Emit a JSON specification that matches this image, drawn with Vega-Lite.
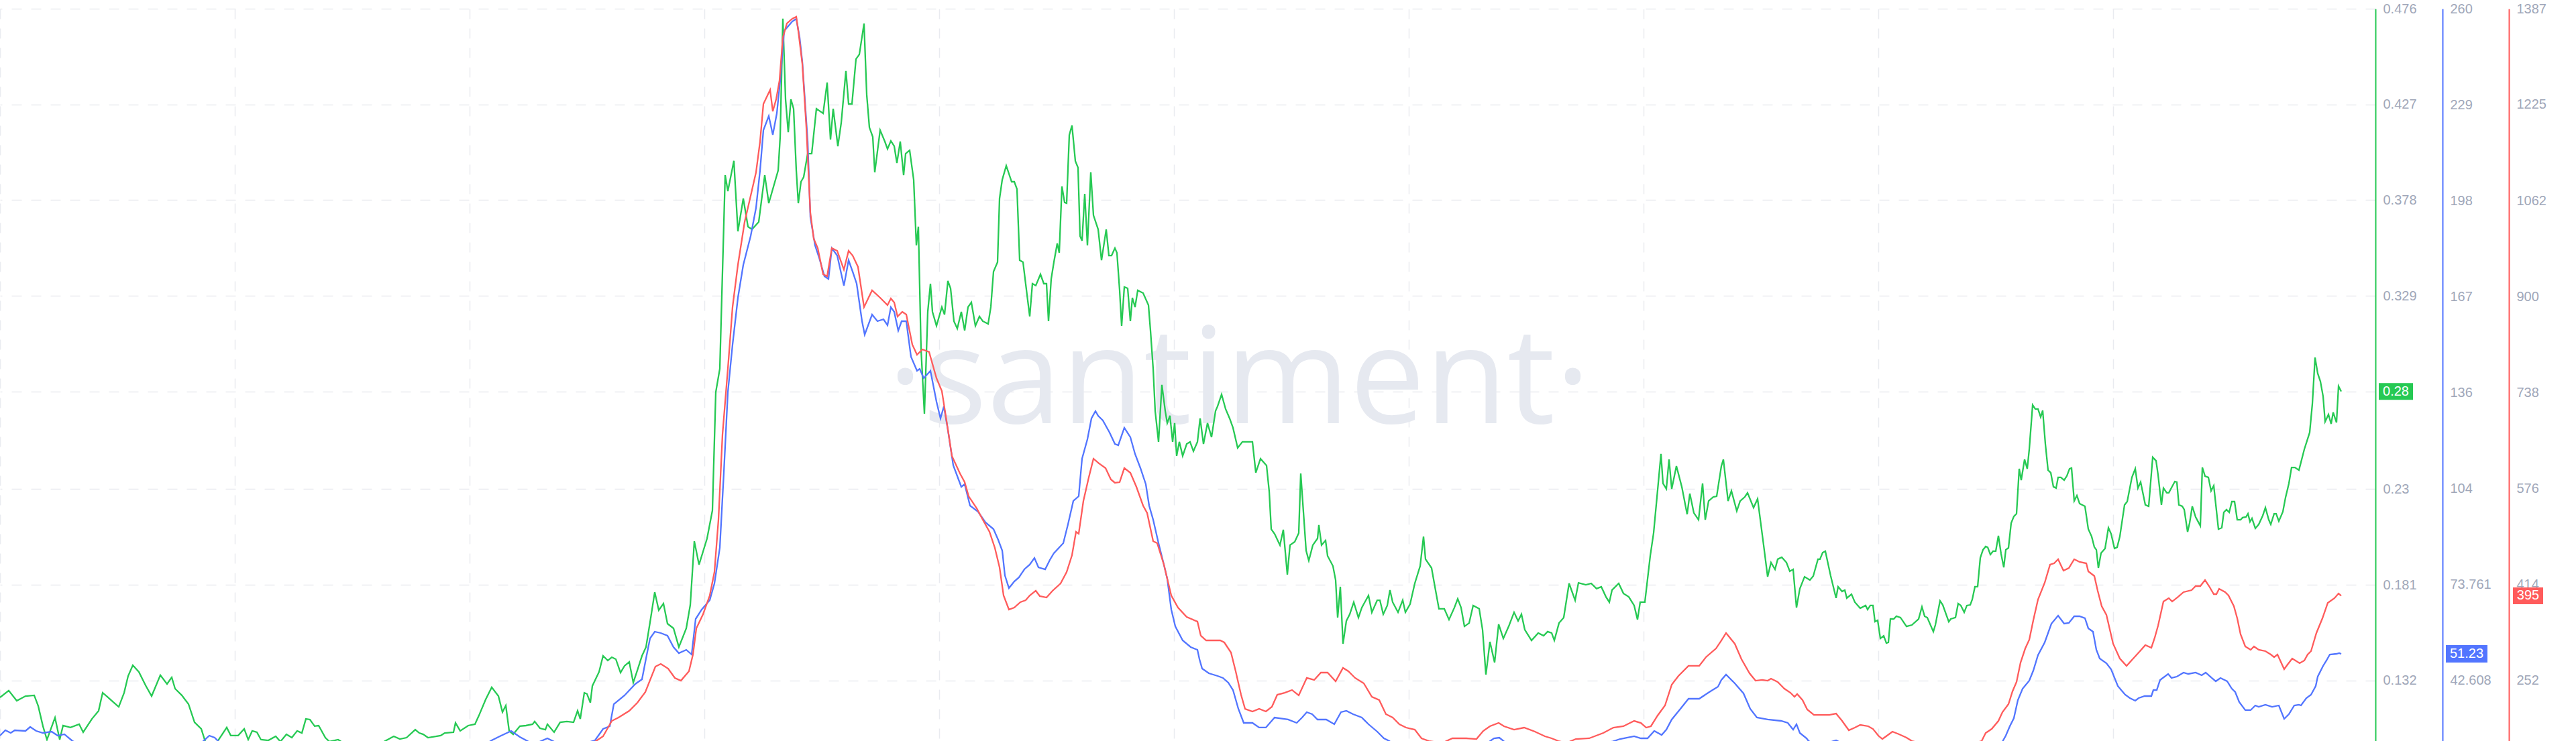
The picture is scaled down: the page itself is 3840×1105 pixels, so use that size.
{
"$schema":"https://vega.github.io/schema/vega-lite/v6.json",
"width":3541,"height":1092,
"autosize":{"type":"none"},
"padding":{"left":0,"top":13,"right":299,"bottom":0},
"background":"#ffffff",
"config":{"view":{"stroke":null},"axis":{"labelFont":"Liberation Sans","labelFontSize":20,"labelColor":"#a0a7b9","ticks":false,"tickSize":0,"labelPadding":11,"title":null,"labelOverlap":false,"labelFlush":false,"domainWidth":2,"gridColor":"#e9ebf0","gridDash":[15,14],"gridWidth":1.5}},
"datasets":{
"green":[{"d":0,"v":0.1233},{"d":2.6,"v":0.1268},{"d":5,"v":0.1216},{"d":7.6,"v":0.124},{"d":10.2,"v":0.1244},{"d":11.4,"v":0.1189},{"d":12.8,"v":0.1086},{"d":14,"v":0.1017},{"d":16.4,"v":0.113},{"d":17.8,"v":0.1017},{"d":18.8,"v":0.1089},{"d":21,"v":0.1079},{"d":23.6,"v":0.1096},{"d":24.8,"v":0.1055},{"d":27.4,"v":0.1123},{"d":29.4,"v":0.1165},{"d":30.6,"v":0.1257},{"d":31.8,"v":0.124},{"d":33.8,"v":0.1209},{"d":35.4,"v":0.1185},{"d":37,"v":0.1257},{"d":38.2,"v":0.1343},{"d":39.6,"v":0.1398},{"d":41.4,"v":0.1364},{"d":43.4,"v":0.1295},{"d":45.2,"v":0.124},{"d":47.8,"v":0.1347},{"d":49.8,"v":0.1302},{"d":51.2,"v":0.1336},{"d":52.2,"v":0.1278},{"d":54.2,"v":0.1244},{"d":56.2,"v":0.1199},{"d":58,"v":0.1106},{"d":60,"v":0.1072},{"d":61.2,"v":0.1007},{"d":64,"v":0.0986},{"d":67.6,"v":0.1079},{"d":68.8,"v":0.1038},{"d":71,"v":0.1038},{"d":72.8,"v":0.1072},{"d":74,"v":0.1017},{"d":75.2,"v":0.1062},{"d":76.6,"v":0.1055},{"d":77.8,"v":0.1017},{"d":80,"v":0.1013},{"d":82.2,"v":0.1034},{"d":83.6,"v":0.1007},{"d":85.4,"v":0.1044},{"d":87,"v":0.1027},{"d":88.6,"v":0.1062},{"d":90,"v":0.1051},{"d":91.2,"v":0.1123},{"d":92.4,"v":0.112},{"d":93.8,"v":0.1086},{"d":95,"v":0.1089},{"d":97,"v":0.1027},{"d":98.2,"v":0.1007},{"d":100.8,"v":0.1017},{"d":103,"v":0.0993},{"d":108,"v":0.0986},{"d":113,"v":0.0993},{"d":117.4,"v":0.1034},{"d":119.2,"v":0.102},{"d":121.2,"v":0.1027},{"d":123.8,"v":0.1068},{"d":125,"v":0.1051},{"d":126.2,"v":0.1044},{"d":127.6,"v":0.1027},{"d":131.4,"v":0.1038},{"d":132.6,"v":0.1051},{"d":135.2,"v":0.1055},{"d":135.8,"v":0.1103},{"d":137.2,"v":0.1062},{"d":139.6,"v":0.1089},{"d":141.6,"v":0.1096},{"d":142.8,"v":0.1141},{"d":144.8,"v":0.1223},{"d":146.6,"v":0.1285},{"d":148.6,"v":0.124},{"d":149.8,"v":0.1158},{"d":150.8,"v":0.1192},{"d":151.8,"v":0.1062},{"d":153,"v":0.1044},{"d":155,"v":0.1086},{"d":156.8,"v":0.1089},{"d":158.8,"v":0.1096},{"d":159.4,"v":0.111},{"d":161,"v":0.1075},{"d":162.6,"v":0.1068},{"d":163.2,"v":0.1096},{"d":165.2,"v":0.1055},{"d":167,"v":0.1106},{"d":169,"v":0.111},{"d":171,"v":0.1106},{"d":172.2,"v":0.1165},{"d":173,"v":0.1123},{"d":174.2,"v":0.1257},{"d":175,"v":0.1251},{"d":176,"v":0.1206},{"d":176.6,"v":0.1292},{"d":178.6,"v":0.1364},{"d":179.8,"v":0.1446},{"d":181.2,"v":0.1422},{"d":182.4,"v":0.1439},{"d":183.6,"v":0.1429},{"d":185,"v":0.136},{"d":186.2,"v":0.1395},{"d":187.6,"v":0.1415},{"d":188.8,"v":0.1309},{"d":190,"v":0.1371},{"d":191.4,"v":0.1446},{"d":192.6,"v":0.1491},{"d":193.8,"v":0.1618},{"d":195.2,"v":0.1772},{"d":196.4,"v":0.168},{"d":197.8,"v":0.1714},{"d":199,"v":0.1611},
{"d":200.8,"v":0.1587},{"d":202.4,"v":0.1491},{"d":204.6,"v":0.1587},{"d":205.8,"v":0.1707},{"d":207,"v":0.2033},{"d":208.4,"v":0.1913},{"d":210.8,"v":0.2047},{"d":212.4,"v":0.2191},{"d":213.4,"v":0.2796},{"d":214.6,"v":0.2916},{"d":216.2,"v":0.3908},{"d":217,"v":0.3826},{"d":218.8,"v":0.3981},{"d":220,"v":0.362},{"d":221.6,"v":0.3788},{"d":223,"v":0.3644},{"d":224.2,"v":0.363},{"d":226.2,"v":0.3668},{"d":228,"v":0.3908},{"d":229.2,"v":0.3764},{"d":232,"v":0.3932},{"d":232.6,"v":0.4104},{"d":233.4,"v":0.4709},{"d":234.2,"v":0.4296},{"d":235,"v":0.4128},{"d":235.8,"v":0.4296},{"d":236.6,"v":0.4248},{"d":237.4,"v":0.3932},{"d":238,"v":0.3764},{"d":238.8,"v":0.3874},{"d":239.6,"v":0.3898},{"d":240.8,"v":0.4018},{"d":242,"v":0.4018},{"d":243.4,"v":0.4248},{"d":245.4,"v":0.4224},{"d":246.6,"v":0.4382},{"d":247.6,"v":0.409},{"d":248.4,"v":0.4248},{"d":249.8,"v":0.4056},{"d":250.8,"v":0.4176},{"d":252.2,"v":0.4441},{"d":253,"v":0.4272},{"d":254,"v":0.4272},{"d":255.2,"v":0.4502},{"d":256.2,"v":0.4526},{"d":257.6,"v":0.4684},{"d":258.4,"v":0.432},{"d":259.2,"v":0.4152},{"d":260.2,"v":0.4104},{"d":260.8,"v":0.3922},{"d":262.4,"v":0.4138},{"d":263.8,"v":0.408},{"d":264.6,"v":0.4042},{"d":265.6,"v":0.4083},{"d":266.6,"v":0.4056},{"d":267.4,"v":0.397},{"d":268.4,"v":0.408},{"d":269.4,"v":0.3908},{"d":270,"v":0.4018},{"d":271.2,"v":0.4035},{"d":272.4,"v":0.3884},{"d":273.2,"v":0.3548},{"d":273.8,"v":0.3644},{"d":274.6,"v":0.3016},{"d":275.6,"v":0.2686},{"d":276.6,"v":0.3208},{"d":277.4,"v":0.3352},{"d":278,"v":0.3208},{"d":279.2,"v":0.3136},{"d":280.8,"v":0.3232},{"d":281.6,"v":0.3194},{"d":282.6,"v":0.3366},{"d":283.4,"v":0.3328},{"d":284.4,"v":0.316},{"d":285.4,"v":0.3122},{"d":286.6,"v":0.3208},{"d":287.6,"v":0.3112},{"d":288.6,"v":0.3232},{"d":289.6,"v":0.3256},{"d":290.8,"v":0.3136},{"d":292,"v":0.3184},{"d":293,"v":0.316},{"d":294.6,"v":0.3146},{"d":295.4,"v":0.3232},{"d":296.2,"v":0.3414},{"d":297.4,"v":0.3462},{"d":298,"v":0.3788},{"d":298.8,"v":0.3884},{"d":300,"v":0.3956},
{"d":301.6,"v":0.3874},{"d":302.4,"v":0.3874},{"d":303.2,"v":0.3836},{"d":304,"v":0.3472},{"d":305,"v":0.3462},{"d":306.2,"v":0.3294},{"d":307,"v":0.3184},{"d":307.8,"v":0.3352},{"d":308.8,"v":0.3342},{"d":310.2,"v":0.34},{"d":311.2,"v":0.3352},{"d":312,"v":0.3352},{"d":312.6,"v":0.316},{"d":313.4,"v":0.3376},{"d":314.2,"v":0.3462},{"d":315.2,"v":0.3558},{"d":315.8,"v":0.351},{"d":316.6,"v":0.385},{"d":317.4,"v":0.3768},{"d":318,"v":0.3764},{"d":318.8,"v":0.4114},{"d":319.6,"v":0.4162},{"d":320.6,"v":0.398},{"d":321.4,"v":0.3946},{"d":322,"v":0.3596},{"d":322.6,"v":0.3572},{"d":323.4,"v":0.3812},{"d":324.2,"v":0.3548},{"d":325.2,"v":0.3922},{"d":326,"v":0.3702},{"d":327.4,"v":0.363},{"d":328.4,"v":0.3472},{"d":329.8,"v":0.363},{"d":330.6,"v":0.3496},{"d":331.4,"v":0.3496},{"d":332.4,"v":0.3534},{"d":333,"v":0.351},{"d":333.8,"v":0.3318},{"d":334.4,"v":0.3136},{"d":335.2,"v":0.3335},{"d":336.2,"v":0.3328},{"d":337,"v":0.316},{"d":337.6,"v":0.328},{"d":338.4,"v":0.3232},{"d":339.2,"v":0.3318},{"d":340.8,"v":0.3304},{"d":342.4,"v":0.3242},{"d":343,"v":0.3112},{"d":343.8,"v":0.2916},{"d":344.4,"v":0.27},{"d":345.4,"v":0.2542},{"d":346.4,"v":0.2834},{"d":347.4,"v":0.27},{"d":348,"v":0.2638},{"d":348.8,"v":0.2676},{"d":349.6,"v":0.2542},{"d":350.2,"v":0.2638},{"d":350.8,"v":0.247},{"d":351.6,"v":0.2542},{"d":352.6,"v":0.247},{"d":353.8,"v":0.2531},{"d":354.8,"v":0.2542},{"d":355.8,"v":0.2494},{"d":357,"v":0.2542},{"d":357.8,"v":0.2662},{"d":358.8,"v":0.2531},{"d":360,"v":0.2638},{"d":361.2,"v":0.2566},{"d":362.4,"v":0.27},{"d":363,"v":0.2724},{"d":364.2,"v":0.2785},{"d":365.4,"v":0.271},{"d":366.6,"v":0.2662},{"d":367.6,"v":0.2614},{"d":369,"v":0.2511},{"d":370.4,"v":0.2542},{"d":373.4,"v":0.2542},{"d":374.4,"v":0.2384},{"d":375.8,"v":0.2456},{"d":377.6,"v":0.2421},{"d":378.4,"v":0.2288},{"d":379,"v":0.2095},{"d":380,"v":0.2071},{"d":381.6,"v":0.2013},{"d":382.6,"v":0.2092},{"d":383.8,"v":0.1862},{"d":384.6,"v":0.2013},{"d":386,"v":0.203},{"d":387.2,"v":0.2075},{"d":387.8,"v":0.238},{"d":389.4,"v":0.1985},{"d":390.2,"v":0.1934},{"d":391.4,"v":0.2013},{"d":392.8,"v":0.2047},{"d":393.2,"v":0.2116},{"d":394,"v":0.2013},{"d":395.2,"v":0.2037},{"d":395.8,"v":0.1958},{"d":397.4,"v":0.1906},{"d":398.2,"v":0.1834},{"d":398.8,"v":0.1642},{"d":399.6,"v":0.18},{"d":400.4,"v":0.1508},{"d":401.4,"v":0.1625},{"d":402.4,"v":0.1659},{"d":403.6,"v":0.1721},{"d":405,"v":0.1642},{"d":406,"v":0.1693},{"d":408,"v":0.1755},{"d":409,"v":0.1669},{"d":410.6,"v":0.1731},{"d":411.4,"v":0.1731},{"d":412.4,"v":0.1659},{"d":413.6,"v":0.1704},{"d":414.4,"v":0.1783},{"d":415.2,"v":0.1721},{"d":416.8,"v":0.1669},{"d":418.2,"v":0.1731},{"d":419,"v":0.1669},{"d":420.4,"v":0.1711},{"d":421.8,"v":0.1817},{"d":423.4,"v":0.1906},{"d":424.4,"v":0.2057},{"d":425,"v":0.1941},{"d":426.8,"v":0.1896},{"d":427.8,"v":0.18},{"d":429,"v":0.1687},{"d":430.6,"v":0.1687},{"d":432,"v":0.1632},{"d":433.6,"v":0.1693},{"d":434.6,"v":0.1738},{"d":435.6,"v":0.1693},{"d":436.6,"v":0.1597},{"d":438,"v":0.1614},{"d":439.2,"v":0.1704},{"d":441,"v":0.1687},{"d":442,"v":0.158},{"d":443,"v":0.135},{"d":444.2,"v":0.1518},{"d":445.6,"v":0.1412},{"d":446.8,"v":0.1608},{"d":448.2,"v":0.1535},{"d":449.8,"v":0.1597},{"d":451.4,"v":0.1669},{"d":452.6,"v":0.1625},{"d":453.6,"v":0.1659},{"d":454.6,"v":0.158},{"d":456.6,"v":0.1525},{"d":458.6,"v":0.1563},{"d":460.2,"v":0.1549},{"d":461.4,"v":0.157},{"d":462.6,"v":0.1563},{"d":463.4,"v":0.1525},{"d":464.8,"v":0.1614},{"d":466.2,"v":0.1642},{"d":467.8,"v":0.1817},{"d":469.6,"v":0.1731},{"d":470.6,"v":0.182},{"d":472.8,"v":0.181},{"d":474.4,"v":0.1817},{"d":476,"v":0.179},{"d":477.4,"v":0.18},{"d":478.8,"v":0.1748},{"d":479.8,"v":0.1721},{"d":480.6,"v":0.1783},{"d":482.6,"v":0.1817},{"d":484,"v":0.1766},{"d":485.6,"v":0.1748},{"d":487.2,"v":0.1704},{"d":488.2,"v":0.1632},{"d":489,"v":0.1721},{"d":490.4,"v":0.1721},{"d":492,"v":0.1958},{"d":493,"v":0.2075},{"d":493.8,"v":0.2222},{"d":495.2,"v":0.248},{"d":495.8,"v":0.2329},{"d":496.8,"v":0.2301},{"d":497.6,"v":0.2452},{"d":498.4,"v":0.2301},{"d":499.8,"v":0.2418},{"d":501.4,"v":0.2312},{"d":503,"v":0.2171},{"d":503.8,"v":0.2277},{"d":505,"v":0.2178},{"d":506.4,"v":0.2143},{"d":507.6,"v":0.2329},{"d":508.4,"v":0.2143},{"d":509.4,"v":0.2239},{"d":510.8,"v":0.226},{"d":511.8,"v":0.2263},{"d":513.2,"v":0.2418},{"d":513.8,"v":0.2452},{"d":515.2,"v":0.2239},{"d":516.2,"v":0.2291},{"d":517.8,"v":0.2188},{"d":518.8,"v":0.2239},{"d":520.2,"v":0.226},{"d":521,"v":0.2281},{"d":522.8,"v":0.2205},{"d":524,"v":0.225},{"d":525.8,"v":0.2013},{"d":527,"v":0.1851},{"d":528,"v":0.1924},{"d":529.2,"v":0.1889},{"d":530,"v":0.1941},{"d":531.2,"v":0.1951},{"d":532.6,"v":0.1924},{"d":533.6,"v":0.1879},{"d":534.6,"v":0.1889},{"d":535.6,"v":0.1693},{"d":536.6,"v":0.179},{"d":538,"v":0.1851},{"d":539.6,"v":0.1834},
{"d":540.6,"v":0.1855},{"d":542,"v":0.1941},{"d":542.6,"v":0.1941},{"d":543.4,"v":0.1975},{"d":544.2,"v":0.1982},{"d":545.8,"v":0.1855},{"d":547.4,"v":0.1742},{"d":548,"v":0.18},{"d":549.2,"v":0.1776},{"d":550,"v":0.1783},{"d":550.6,"v":0.1742},{"d":552,"v":0.1762},{"d":553,"v":0.1721},{"d":554.6,"v":0.169},{"d":556.2,"v":0.1704},{"d":556.8,"v":0.1683},{"d":557.6,"v":0.1704},{"d":558.4,"v":0.1704},{"d":559,"v":0.1621},{"d":559.8,"v":0.1628},{"d":560.6,"v":0.1535},{"d":561.6,"v":0.1549},{"d":562.4,"v":0.1511},{"d":563,"v":0.1515},{"d":563.6,"v":0.1635},{"d":564.6,"v":0.1635},{"d":565.4,"v":0.1649},{"d":566.6,"v":0.1642},{"d":568.4,"v":0.1597},{"d":570,"v":0.1604},{"d":572,"v":0.1635},{"d":573,"v":0.1697},{"d":573.8,"v":0.1649},{"d":574.6,"v":0.1642},{"d":576.4,"v":0.157},{"d":577,"v":0.1604},{"d":578.4,"v":0.1728},{"d":579.2,"v":0.1707},{"d":581,"v":0.1621},{"d":581.6,"v":0.1635},{"d":583,"v":0.1642},{"d":583.8,"v":0.1714},{"d":584.6,"v":0.1704},{"d":585.6,"v":0.1669},{"d":586.4,"v":0.1704},{"d":587.4,"v":0.1707},{"d":588,"v":0.1735},{"d":588.8,"v":0.18},{"d":589.6,"v":0.18},{"d":590.4,"v":0.1948},{"d":591.2,"v":0.1989},{"d":592,"v":0.2006},{"d":592.6,"v":0.2002},{"d":593.4,"v":0.1965},{"d":594.2,"v":0.1982},{"d":595,"v":0.1982},{"d":595.8,"v":0.2061},{"d":596.6,"v":0.1968},{"d":597.4,"v":0.1899},{"d":598,"v":0.1989},{"d":598.8,"v":0.1999},{"d":599.6,"v":0.2126},{"d":600.4,"v":0.216},{"d":601.2,"v":0.2174},{"d":602,"v":0.2404},{"d":602.6,"v":0.2346},{"d":603.6,"v":0.2452},{"d":604.4,"v":0.2404},{"d":605,"v":0.2504},{"d":606,"v":0.2731},{"d":606.8,"v":0.271},{"d":607.6,"v":0.271},{"d":608.4,"v":0.2669},{"d":609,"v":0.2703},{"d":609.8,"v":0.2531},{"d":610.6,"v":0.2397},{"d":611.4,"v":0.2384},{"d":612.2,"v":0.2312},{"d":613,"v":0.2305},{"d":613.6,"v":0.236},{"d":614.4,"v":0.236},{"d":615.4,"v":0.2346},{"d":616.2,"v":0.2367},{"d":617,"v":0.2404},{"d":617.6,"v":0.2408},{"d":618.4,"v":0.2239},{"d":619.2,"v":0.2267},{"d":620,"v":0.2226},{"d":621.6,"v":0.2212},{"d":622.6,"v":0.2095},{"d":623.6,"v":0.2057},{"d":624.4,"v":0.2003},{"d":625,"v":0.1989},{"d":625.6,"v":0.1896},{"d":626.4,"v":0.1972},{"d":627.6,"v":0.1996},{"d":628.6,"v":0.2102},{"d":629.4,"v":0.2071},{"d":630.4,"v":0.1996},{"d":631.2,"v":0.2002},{"d":632,"v":0.2057},{"d":633.4,"v":0.2219},{"d":634.2,"v":0.2236},{"d":635.6,"v":0.236},{"d":636.6,"v":0.2404},{"d":637.4,"v":0.2305},{"d":638.2,"v":0.2336},{"d":639.6,"v":0.2219},{"d":640.6,"v":0.2212},{"d":641.8,"v":0.2463},{"d":642.8,"v":0.2445},{"d":643.4,"v":0.2373},{"d":644.4,"v":0.2219},{"d":645,"v":0.2305},{"d":646,"v":0.2281},{"d":646.6,"v":0.2281},{"d":648.4,"v":0.2339},{"d":649,"v":0.2336},{"d":649.6,"v":0.2219},{"d":650.6,"v":0.2212},{"d":651.2,"v":0.2195},{"d":652.2,"v":0.2081},{"d":652.8,"v":0.2126},{"d":653.6,"v":0.2212},{"d":654.6,"v":0.2157},{"d":656,"v":0.2112},{"d":656.6,"v":0.2411},{"d":657.4,"v":0.2366},{"d":658.4,"v":0.236},{"d":659.2,"v":0.2291},{"d":660,"v":0.2318},{"d":661.4,"v":0.2095},{"d":662.4,"v":0.2102},{"d":663,"v":0.2181},{"d":663.8,"v":0.2195},{"d":664.6,"v":0.2181},{"d":665.4,"v":0.2236},{"d":666.2,"v":0.2236},{"d":667,"v":0.2143},{"d":668,"v":0.2143},{"d":668.6,"v":0.2154},{"d":669.6,"v":0.2157},{"d":670.2,"v":0.2174},{"d":670.8,"v":0.2133},{"d":671.4,"v":0.215},{"d":672.4,"v":0.2099},{"d":673.4,"v":0.2119},{"d":674.6,"v":0.2164},{"d":675.4,"v":0.2205},{"d":676.4,"v":0.2143},{"d":677,"v":0.2119},{"d":678,"v":0.2174},{"d":678.6,"v":0.2174},{"d":679.4,"v":0.2136},{"d":680.6,"v":0.2184},{"d":681.4,"v":0.2257},{"d":682.4,"v":0.2329},{"d":683.2,"v":0.2411},{"d":684.2,"v":0.2411},{"d":685.4,"v":0.2397},{"d":687,"v":0.2504},{"d":688.6,"v":0.259},{"d":689.4,"v":0.2737},{"d":690.2,"v":0.2974},{"d":691,"v":0.2892},{"d":691.8,"v":0.2851},{"d":692.6,"v":0.2775},{"d":693.2,"v":0.2645},{"d":694.2,"v":0.2682},{"d":695,"v":0.2634},{"d":695.6,"v":0.2693},{"d":696.6,"v":0.2641},{"d":697.2,"v":0.2827},{"d":698,"v":0.28}],
"blue":[{"d":0,"v":24.69},{"d":1.6,"v":26.43},{"d":3.2,"v":25.56},{"d":4.4,"v":26.43},{"d":7.6,"v":26.22},{"d":9,"v":27.52},{"d":10.8,"v":26.22},{"d":12.8,"v":25.56},{"d":15.4,"v":26.0},{"d":17.2,"v":24.69},{"d":19.2,"v":25.13},{"d":21.6,"v":22.95},{"d":26,"v":20.77},{"d":40,"v":17.51},{"d":56,"v":19.69},{"d":60,"v":22.3},{"d":62.4,"v":24.69},{"d":64,"v":24.04},{"d":65.6,"v":22.3},{"d":70,"v":18.6},{"d":90,"v":15.33},{"d":120,"v":15.33},{"d":140,"v":18.6},{"d":146.6,"v":23.17},{"d":149,"v":24.48},{"d":152.4,"v":26.22},{"d":155,"v":24.26},{"d":157.6,"v":22.73},{"d":160,"v":22.3},{"d":163.2,"v":23.82},{"d":166,"v":22.3},{"d":172,"v":21.43},{"d":177.4,"v":23.17},{"d":179.8,"v":26.87},{"d":181.8,"v":27.74},{"d":183,"v":34.92},{"d":186.2,"v":37.76},{"d":189.4,"v":41.46},{"d":191.4,"v":42.98},{"d":192.6,"v":49.73},{"d":193.8,"v":56.26},{"d":195.2,"v":58.44},{"d":197,"v":58.0},{"d":199,"v":57.13},{"d":200.8,"v":53.43},{"d":202.4,"v":51.47},{"d":204.6,"v":52.56},{"d":206.2,"v":51.03},{"d":207.4,"v":62.57},{"d":209.2,"v":65.62},{"d":211.6,"v":68.67},{"d":213,"v":74.11},{"d":214.6,"v":85.65},{"d":215.8,"v":110.03},{"d":217,"v":136.16},{"d":218.4,"v":151.61},{"d":220,"v":166.85},{"d":221.6,"v":177.52},{"d":223.8,"v":186.88},{"d":225.4,"v":196.02},{"d":226.6,"v":208.21},{"d":227.6,"v":221.28},{"d":229.2,"v":225.85},{"d":230.4,"v":219.75},{"d":231.6,"v":226.72},{"d":232.6,"v":237.39},{"d":233.8,"v":253.5},{"d":235,"v":255.02},{"d":236.2,"v":256.54},{"d":237.4,"v":257.41},{"d":238.4,"v":251.32},{"d":239.2,"v":243.48},{"d":240.8,"v":217.58},{"d":241.6,"v":192.98},{"d":243,"v":183.83},{"d":244.2,"v":179.91},{"d":245.8,"v":173.82},{"d":247,"v":172.95},{"d":248,"v":182.96},{"d":249.6,"v":180.57},{"d":251.6,"v":170.77},{"d":253,"v":179.04},{"d":254.2,"v":175.34},{"d":255.4,"v":171.42},{"d":257,"v":159.23},{"d":257.8,"v":154.88},{"d":260,"v":161.41},{"d":261.6,"v":159.23},{"d":263.4,"v":159.88},{"d":264.6,"v":157.93},{"d":265.6,"v":163.8},{"d":266.6,"v":162.28},{"d":267.8,"v":156.18},{"d":268.8,"v":159.23},{"d":270.2,"v":159.23},{"d":271.6,"v":147.69},{"d":273.4,"v":143.12},{"d":274.2,"v":143.77},{"d":275.4,"v":140.73},{"d":277.4,"v":143.12},{"d":279.2,"v":133.11},{"d":280.4,"v":127.67},{"d":281.4,"v":131.58},{"d":282.6,"v":123.96},{"d":284.2,"v":112.43},{"d":286.6,"v":105.46},{"d":287.6,"v":106.33},{"d":289.2,"v":99.36},{"d":291.6,"v":97.4},{"d":293.8,"v":93.92},{"d":296.2,"v":91.74},{"d":297.6,"v":88.26},{"d":298.8,"v":84.78},{"d":299.6,"v":76.72},{"d":300.8,"v":72.59},{"d":302.4,"v":74.76},{"d":303.8,"v":76.07},{"d":305.4,"v":78.68},{"d":307,"v":80.21},{"d":308.4,"v":82.38},{"d":309.6,"v":79.34},{"d":311.6,"v":78.68},{"d":313,"v":81.73},{"d":314.2,"v":83.91},{"d":317,"v":87.17},{"d":318.4,"v":93.27},{"d":320,"v":100.89},{"d":321.6,"v":102.41},{"d":322.6,"v":114.6},{"d":324.2,"v":120.92},{"d":325.4,"v":127.67},{"d":326.6,"v":130.06},{"d":327.4,"v":128.54},{"d":328.8,"v":127.01},{"d":330.8,"v":123.09},{"d":332.4,"v":119.39},{"d":333.4,"v":118.96},{"d":335.2,"v":124.62},{"d":337,"v":121.57},{"d":338.4,"v":116.13},{"d":340,"v":111.56},{"d":341.6,"v":106.33},{"d":342.6,"v":99.36},{"d":343.8,"v":94.79},{"d":345.4,"v":87.17},{"d":347,"v":80.21},{"d":348,"v":75.63},{"d":349.2,"v":65.62},{"d":350.4,"v":60.18},{"d":352.6,"v":55.61},{"d":355,"v":53.43},{"d":357,"v":52.56},{"d":357.6,"v":49.51},{"d":358.4,"v":46.46},{"d":360.4,"v":44.94},{"d":363,"v":44.07},{"d":364.6,"v":43.42},{"d":366.2,"v":41.89},{"d":367.6,"v":39.49},{"d":369.2,"v":33.4},{"d":370.8,"v":28.83},{"d":373.4,"v":28.83},{"d":375.4,"v":27.31},{"d":377.4,"v":27.31},{"d":380,"v":30.57},{"d":384,"v":29.92},{"d":386.6,"v":28.83},{"d":388.2,"v":30.57},{"d":389.6,"v":32.31},{"d":391.2,"v":31.66},{"d":392.8,"v":29.92},{"d":395.4,"v":29.92},{"d":397.8,"v":28.39},{"d":399.8,"v":32.31},{"d":401.4,"v":32.75},{"d":403.4,"v":31.66},{"d":406,"v":30.57},{"d":408,"v":28.39},{"d":410.6,"v":26.0},{"d":412.6,"v":23.82},{"d":414.2,"v":22.95},{"d":416,"v":21.43},{"d":430,"v":19.69},{"d":444,"v":22.73},{"d":445.4,"v":23.82},{"d":447,"v":24.04},{"d":449,"v":22.3},{"d":460,"v":20.77},{"d":480.6,"v":22.73},{"d":483,"v":23.6},{"d":487.2,"v":24.48},{"d":489.2,"v":23.82},{"d":491.2,"v":23.82},{"d":493.2,"v":26.22},{"d":495.4,"v":24.91},{"d":496.8,"v":26.65},{"d":498.4,"v":29.92},{"d":501,"v":33.4},{"d":503.4,"v":36.67},{"d":506.6,"v":36.67},{"d":509.6,"v":38.84},{"d":512.2,"v":40.58},{"d":513.2,"v":42.76},{"d":514.6,"v":44.5},{"d":517.2,"v":41.67},{"d":519.8,"v":38.41},{"d":521.8,"v":33.4},{"d":523.8,"v":30.57},{"d":527,"v":29.92},{"d":531,"v":29.48},{"d":533,"v":28.83},{"d":534.6,"v":26.65},{"d":535.6,"v":28.39},{"d":536.6,"v":25.56},{"d":538.6,"v":23.82},{"d":539.2,"v":22.95},{"d":542,"v":21.43},{"d":546,"v":22.73},{"d":547.4,"v":23.17},{"d":549,"v":22.3},{"d":560,"v":18.6},{"d":580,"v":17.51},{"d":592,"v":19.69},{"d":597,"v":22.73},{"d":598,"v":24.69},{"d":599.2,"v":27.74},{"d":600.4,"v":30.35},{"d":601.6,"v":36.23},{"d":603,"v":39.93},{"d":605,"v":42.54},{"d":606.2,"v":45.81},{"d":607.6,"v":50.82},{"d":609.6,"v":54.95},{"d":611.6,"v":61.05},{"d":613.6,"v":63.66},{"d":615.4,"v":61.05},{"d":616.8,"v":61.27},{"d":618.4,"v":63.44},{"d":620,"v":63.44},{"d":621.6,"v":62.79},{"d":622.6,"v":59.53},{"d":624,"v":58.44},{"d":625,"v":52.56},{"d":626,"v":49.73},{"d":628,"v":48.2},{"d":629.4,"v":46.25},{"d":631.4,"v":40.8},{"d":632.4,"v":39.49},{"d":633.6,"v":37.97},{"d":635,"v":36.88},{"d":636.6,"v":36.01},{"d":637.6,"v":36.88},{"d":639.4,"v":37.54},{"d":641.4,"v":37.54},{"d":642,"v":39.49},{"d":643,"v":39.49},{"d":644,"v":42.76},{"d":646.4,"v":44.72},{"d":647.4,"v":43.42},{"d":649,"v":43.85},{"d":651,"v":45.16},{"d":652.4,"v":44.72},{"d":654.6,"v":45.16},{"d":656.4,"v":44.29},{"d":657.6,"v":45.16},{"d":659.4,"v":43.42},{"d":660.6,"v":42.33},{"d":662,"v":43.42},{"d":664,"v":42.33},{"d":665.4,"v":39.93},{"d":666.4,"v":38.84},{"d":667.6,"v":35.58},{"d":669.4,"v":32.97},{"d":671,"v":32.97},{"d":672.4,"v":34.49},{"d":673.4,"v":34.05},{"d":675.4,"v":34.71},{"d":677.4,"v":34.05},{"d":679.4,"v":34.49},{"d":681,"v":30.14},{"d":682.4,"v":31.66},{"d":684,"v":34.49},{"d":685.4,"v":34.71},{"d":686,"v":34.49},{"d":687.6,"v":36.88},{"d":689,"v":37.97},{"d":690.4,"v":40.8},{"d":691,"v":43.85},{"d":692.6,"v":47.33},{"d":693.6,"v":49.08},{"d":694.6,"v":51.03},{"d":696.6,"v":51.25},{"d":697.4,"v":51.47},{"d":698,"v":51.23}],
"red":[{"d":0,"v":70.3},{"d":40,"v":53.3},{"d":80,"v":59.0},{"d":120,"v":64.7},{"d":160,"v":87.3},{"d":172,"v":127.0},{"d":177.4,"v":148.5},{"d":179.8,"v":157.6},{"d":182.4,"v":183.6},{"d":184.4,"v":189.3},{"d":187.6,"v":200.6},{"d":190,"v":214.2},{"d":192.4,"v":232.4},{"d":195.4,"v":275.4},{"d":197,"v":280.0},{"d":199.2,"v":272.0},{"d":201.2,"v":256.2},{"d":203,"v":251.6},{"d":205.4,"v":267.5},{"d":206.6,"v":295.8},{"d":207.6,"v":340.0},{"d":209.6,"v":363.8},{"d":211.6,"v":395.5},{"d":213,"v":435.2},{"d":214.2,"v":523.6},{"d":215.4,"v":667.5},{"d":217,"v":778.5},{"d":218.4,"v":882.8},{"d":220,"v":954.2},{"d":222,"v":1026.7},{"d":223.8,"v":1070.9},{"d":225.4,"v":1110.5},{"d":226.6,"v":1162.6},{"d":227.6,"v":1226.1},{"d":229.6,"v":1249.9},{"d":230.4,"v":1213.6},{"d":231.4,"v":1234.0},{"d":232.4,"v":1265.8},{"d":233.4,"v":1338.3},{"d":234.6,"v":1362.1},{"d":236.2,"v":1370.0},{"d":237.4,"v":1373.4},{"d":238,"v":1349.6},{"d":239.2,"v":1294.1},{"d":240.4,"v":1186.4},{"d":241.6,"v":1042.5},{"d":242.6,"v":998.3},{"d":243.8,"v":982.5},{"d":245.4,"v":938.3},{"d":246.6,"v":934.9},{"d":248,"v":982.5},{"d":249.6,"v":977.9},{"d":251.6,"v":946.2},{"d":253,"v":977.9},{"d":254.2,"v":970.0},{"d":255.8,"v":950.8},{"d":257.6,"v":882.8},{"d":260,"v":911.1},{"d":262.4,"v":898.6},{"d":264.6,"v":886.2},{"d":265.6,"v":897.5},{"d":266.6,"v":890.7},{"d":267.6,"v":866.9},{"d":269,"v":874.8},{"d":270.2,"v":870.3},{"d":272,"v":819.3},{"d":273.4,"v":802.3},{"d":275,"v":811.4},{"d":277,"v":806.9},{"d":279.2,"v":762.7},{"d":280.8,"v":741.1},{"d":282.4,"v":683.3},{"d":283.8,"v":631.2},{"d":286.2,"v":601.8},{"d":287.6,"v":587.0},{"d":288.8,"v":563.2},{"d":291.2,"v":542.8},{"d":293,"v":523.6},{"d":295,"v":503.2},{"d":296.6,"v":476.0},{"d":298,"v":443.1},{"d":299.2,"v":395.5},{"d":300.8,"v":371.7},{"d":302.4,"v":375.1},{"d":304.2,"v":384.2},{"d":305.8,"v":387.6},{"d":307,"v":395.5},{"d":308.8,"v":403.5},{"d":310,"v":394.4},{"d":312,"v":392.1},{"d":313.8,"v":403.5},{"d":316.2,"v":415.9},{"d":318,"v":435.2},{"d":319.6,"v":463.5},{"d":320.8,"v":503.2},{"d":321.6,"v":499.8},{"d":323,"v":555.3},{"d":324.6,"v":595.0},{"d":326,"v":626.7},{"d":327.6,"v":618.8},{"d":329.6,"v":610.8},{"d":331.2,"v":591.6},{"d":332.4,"v":585.9},{"d":333.8,"v":587.0},{"d":335.2,"v":610.8},{"d":337,"v":602.9},{"d":338.8,"v":579.1},{"d":340.8,"v":547.4},{"d":342,"v":534.9},{"d":343.8,"v":487.3},{"d":345,"v":483.9},{"d":347,"v":447.7},{"d":348,"v":423.9},{"d":349.2,"v":395.5},{"d":351.2,"v":375.1},{"d":353.8,"v":359.3},{"d":357,"v":351.4},{"d":358,"v":327.6},{"d":359.6,"v":319.6},{"d":363.8,"v":319.6},{"d":365,"v":316.2},{"d":367,"v":299.2},{"d":368.4,"v":267.5},{"d":370,"v":227.8},{"d":371.2,"v":204.0},{"d":373.4,"v":199.5},{"d":375.4,"v":204.0},{"d":377.4,"v":199.5},{"d":379.2,"v":207.4},{"d":380.8,"v":227.8},{"d":383,"v":231.2},{"d":385.2,"v":235.8},{"d":387.2,"v":226.7},{"d":389.6,"v":256.2},{"d":391.8,"v":252.8},{"d":393.8,"v":265.2},{"d":395.8,"v":265.2},{"d":398.2,"v":250.5},{"d":400.4,"v":273.2},{"d":402,"v":267.5},{"d":404,"v":256.2},{"d":406.6,"v":247.1},{"d":409,"v":224.4},{"d":411.2,"v":218.8},{"d":413.2,"v":195.0},{"d":415.2,"v":189.3},{"d":417.2,"v":178.0},{"d":419.2,"v":172.3},{"d":421.8,"v":168.9},{"d":423.8,"v":154.2},{"d":426,"v":149.6},{"d":430,"v":146.3},{"d":433,"v":154.2},{"d":437.2,"v":154.2},{"d":440.2,"v":153.0},{"d":442.2,"v":166.6},{"d":444.2,"v":174.6},{"d":446.8,"v":180.2},{"d":448.4,"v":174.6},{"d":451.4,"v":168.9},{"d":454.4,"v":172.3},{"d":457.6,"v":165.5},{"d":460.6,"v":157.6},{"d":462.6,"v":154.2},{"d":464.6,"v":149.6},{"d":467,"v":146.3},{"d":469.8,"v":153.0},{"d":473.8,"v":154.2},{"d":478,"v":163.2},{"d":481,"v":172.3},{"d":484,"v":174.6},{"d":487.2,"v":183.6},{"d":489.2,"v":180.2},{"d":490.8,"v":172.3},{"d":492.2,"v":174.6},{"d":494.2,"v":192.7},{"d":496.4,"v":209.7},{"d":498.4,"v":244.8},{"d":500.4,"v":259.6},{"d":503.4,"v":276.6},{"d":506.6,"v":276.6},{"d":508.6,"v":291.3},{"d":511.6,"v":306.0},{"d":513.2,"v":319.6},{"d":514.6,"v":332.1},{"d":517.2,"v":314.0},{"d":519.2,"v":287.9},{"d":521.6,"v":264.1},{"d":523.4,"v":251.6},{"d":525.4,"v":252.8},{"d":527,"v":251.6},{"d":528,"v":255.0},{"d":530,"v":249.4},{"d":532,"v":238.0},{"d":533.8,"v":231.2},{"d":535,"v":224.4},{"d":535.8,"v":229.0},{"d":537.4,"v":218.8},{"d":538.8,"v":202.9},{"d":540.8,"v":193.8},{"d":543,"v":193.8},{"d":545.4,"v":193.8},{"d":547.4,"v":196.1},{"d":549.2,"v":183.6},{"d":551.2,"v":167.8},{"d":553,"v":172.3},{"d":554.6,"v":176.8},{"d":557,"v":174.6},{"d":558.4,"v":170.0},{"d":560,"v":158.7},{"d":561.2,"v":153.0},{"d":562.6,"v":158.7},{"d":564.2,"v":165.5},{"d":566.2,"v":161.0},{"d":568.4,"v":155.3},{"d":570,"v":149.6},{"d":576,"v":141.7},{"d":584,"v":138.3},{"d":590.8,"v":149.6},{"d":592,"v":163.2},{"d":593.8,"v":170.0},{"d":595.8,"v":183.6},{"d":597,"v":198.4},{"d":598.8,"v":212.0},{"d":600,"v":233.5},{"d":601.2,"v":249.4},{"d":602.4,"v":282.2},{"d":603.8,"v":306.0},{"d":605,"v":320.8},{"d":606.2,"v":353.6},{"d":607.6,"v":388.7},{"d":609.6,"v":417.1},{"d":611.2,"v":447.7},{"d":612.4,"v":449.9},{"d":613.6,"v":456.7},{"d":615.2,"v":437.5},{"d":616.8,"v":442.0},{"d":618.4,"v":456.7},{"d":620,"v":452.2},{"d":622,"v":449.9},{"d":622.6,"v":436.3},{"d":624.4,"v":428.4},{"d":625.4,"v":403.5},{"d":626.6,"v":377.4},{"d":628,"v":362.7},{"d":630,"v":314.0},{"d":632,"v":289.0},{"d":634,"v":276.6},{"d":636,"v":289.0},{"d":638,"v":301.5},{"d":639.6,"v":311.7},{"d":641.4,"v":307.2},{"d":642.4,"v":324.2},{"d":643.4,"v":344.6},{"d":645,"v":385.3},{"d":646.6,"v":391.0},{"d":647.6,"v":385.3},{"d":649.4,"v":393.3},{"d":651,"v":401.2},{"d":653.4,"v":404.6},{"d":654.6,"v":411.4},{"d":656,"v":411.4},{"d":657.4,"v":421.6},{"d":658.6,"v":411.4},{"d":660,"v":397.8},{"d":660.8,"v":397.8},{"d":661.6,"v":406.9},{"d":663.4,"v":401.2},{"d":664.4,"v":395.5},{"d":666,"v":377.4},{"d":667,"v":357.0},{"d":668,"v":329.8},{"d":669.4,"v":309.4},{"d":671,"v":303.8},{"d":672,"v":309.4},{"d":673.4,"v":303.8},{"d":675.4,"v":301.5},{"d":677,"v":295.8},{"d":678,"v":291.3},{"d":679,"v":295.8},{"d":680,"v":283.4},{"d":681,"v":270.9},{"d":682,"v":278.8},{"d":683.4,"v":289.0},{"d":685.6,"v":281.1},{"d":687,"v":285.6},{"d":688,"v":295.8},{"d":689,"v":301.5},{"d":690.6,"v":332.1},{"d":692.4,"v":357.0},{"d":694,"v":383.1},{"d":696,"v":391.0},{"d":697.2,"v":398.9},{"d":698,"v":395}]
},
"encoding":{"x":{"field":"d","type":"quantitative","scale":{"domain":[0,708.2],"nice":false,"zero":false},"axis":{"values":[0,70,140,210,280,350,420,490,560,630],"grid":true,"labels":false,"domain":false}}},
"layer":[
{"encoding":{"y":{"field":"v","type":"quantitative","scale":{"domain":[0.101,0.476],"nice":false,"zero":false},"axis":{"orient":"right","offset":0,"values":[0.132,0.181,0.23,0.28,0.329,0.378,0.427,0.476],"labelExpr":"'' + datum.value","grid":true,"domainColor":"#26c953"}}},
"layer":[
{"data":{"values":[{"d":369.4,"v":0.2638,"t":"·santiment·"}]},"mark":{"type":"text","font":"Open Sans","fontSize":200,"color":"#e6e9f0","align":"center","baseline":"alphabetic"},"encoding":{"text":{"field":"t"}}},
{"data":{"name":"green"},"mark":{"type":"line","color":"#26c953","strokeWidth":2.3,"clip":true},"encoding":{}},
{"data":{"values":[{"d":698,"v":0.28,"t":"0.28"}]},"mark":{"type":"point","shape":"M-1,-0.49L1,-0.49L1,0.49L-1,0.49Z","size":2601,"filled":true,"opacity":1,"strokeWidth":0,"color":"#26c953","xOffset":81.5},"encoding":{}},
{"data":{"values":[{"d":698,"v":0.28,"t":"0.28"}]},"mark":{"type":"text","color":"#ffffff","font":"Liberation Sans","fontSize":20,"align":"center","baseline":"middle","dx":81.5},"encoding":{"text":{"field":"t"}}}
]},
{"encoding":{"y":{"field":"v","type":"quantitative","scale":{"domain":[22.95,260.68],"nice":false,"zero":false},"axis":{"orient":"right","offset":100,"values":[42.608,73.761,104.914,136.067,167.22,198.373,229.526,260.679],"labelExpr":"datum.value < 100 ? format(datum.value, '.3f') : format(floor(datum.value), 'd')","grid":false,"domainColor":"#5275ff"}}},
"layer":[
{"data":{"name":"blue"},"mark":{"type":"line","color":"#5275ff","strokeWidth":2.3,"clip":true},"encoding":{}},
{"data":{"values":[{"d":698,"v":51.23,"t":"51.23"}]},"mark":{"type":"point","shape":"M-1,-0.42L1,-0.42L1,0.42L-1,0.42Z","size":3844,"filled":true,"opacity":1,"strokeWidth":0,"color":"#5275ff","xOffset":187},"encoding":{}},
{"data":{"values":[{"d":698,"v":51.23,"t":"51.23"}]},"mark":{"type":"text","color":"#ffffff","font":"Liberation Sans","fontSize":20,"align":"center","baseline":"middle","dx":187},"encoding":{"text":{"field":"t"}}}
]},
{"encoding":{"y":{"field":"v","type":"quantitative","scale":{"domain":[149.65,1387],"nice":false,"zero":false},"axis":{"orient":"right","offset":199,"values":[252,414,576,738,900,1062,1225,1387],"format":"d","grid":false,"domainColor":"#ff5b5b"}}},
"layer":[
{"data":{"name":"red"},"mark":{"type":"line","color":"#ff5b5b","strokeWidth":2.3,"clip":true},"encoding":{}},
{"data":{"values":[{"d":698,"v":395,"t":"395"}]},"mark":{"type":"point","shape":"M-1,-0.556L1,-0.556L1,0.556L-1,0.556Z","size":2025,"filled":true,"opacity":1,"strokeWidth":0,"color":"#ff5b5b","xOffset":278.5},"encoding":{}},
{"data":{"values":[{"d":698,"v":395,"t":"395"}]},"mark":{"type":"text","color":"#ffffff","font":"Liberation Sans","fontSize":20,"align":"center","baseline":"middle","dx":278.5},"encoding":{"text":{"field":"t"}}}
]}
],
"resolve":{"scale":{"y":"independent"},"axis":{"y":"independent"}}
}
